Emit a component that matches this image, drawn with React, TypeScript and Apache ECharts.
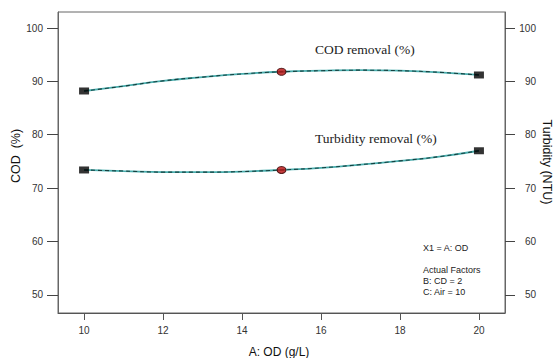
import React, { useEffect, useRef } from "react";
import * as echarts from "echarts";

// Values
const odValues = [10, 11, 12, 13, 14, 15, 16, 17, 18, 19, 20];
const codRemoval = [88.2, 89.1, 90.1, 90.8, 91.4, 91.8, 92.0, 92.1, 92.0, 91.7, 91.2];
const turbidityRemoval = [73.4, 73.2, 73.0, 73.0, 73.1, 73.4, 73.8, 74.4, 75.1, 75.9, 77.0];
const designPointsX = [10, 15, 20];
const centerPointX = 15;
const xTicks = [10, 12, 14, 16, 18, 20];
const yTicks = [50, 60, 70, 80, 90, 100];
const annotationLines = ["X1 = A: OD", "", "Actual Factors", "B: CD = 2", "C: Air = 10"];

const pairs = (ys: number[]) => odValues.map((x, i) => [x, ys[i]]);
const atX = (ys: number[], xs: number[]) => xs.map((x) => [x, ys[odValues.indexOf(x)]]);

export default function App() {
  const ref = useRef<HTMLDivElement>(null);
  useEffect(() => {
    if (!ref.current) return;
    const chart = echarts.init(ref.current, null, { renderer: "svg" });
    const labelStyle = { color: "#333", fontSize: 10, fontFamily: "Liberation Sans, Arial, sans-serif" };
    const yAxisBase = {
      type: "value" as const,
      min: 46.6,
      max: 103,
      splitLine: { show: false },
      axisLine: { show: true, lineStyle: { color: "#666", width: 1 } },
    };
    const squares = (ys: number[]) =>
      atX(ys, designPointsX.filter((x) => x !== centerPointX));
    const center = (ys: number[]) => atX(ys, [centerPointX]);
    const lineSeries = (ys: number[], yIdx: number) => [
      {
        type: "line",
        yAxisIndex: yIdx,
        data: pairs(ys),
        smooth: true,
        showSymbol: false,
        lineStyle: { color: "#4aaeae", width: 1.8 },
        z: 2,
      },
      {
        type: "line",
        yAxisIndex: yIdx,
        data: pairs(ys),
        smooth: true,
        showSymbol: false,
        lineStyle: { color: "#14403f", width: 1.1, type: [4, 3] },
        z: 3,
      },
      {
        type: "scatter",
        yAxisIndex: yIdx,
        data: squares(ys),
        symbol: "rect",
        symbolSize: [10, 7],
        itemStyle: { color: "#000" },
        z: 5,
      },
      {
        type: "scatter",
        yAxisIndex: yIdx,
        data: center(ys),
        symbol: "circle",
        symbolSize: [9, 7],
        itemStyle: { color: "#b80d0d", borderColor: "#3a0000", borderWidth: 1 },
        z: 5,
      },
    ];
    chart.setOption({
      animation: false,
      backgroundColor: "#fff",
      grid: { left: 58, right: 48, top: 12, bottom: 45, show: true, borderColor: "#666", borderWidth: 1 },
      xAxis: {
        type: "value",
        min: 9.34,
        max: 20.66,
        splitLine: { show: false },
        axisLine: { show: true, lineStyle: { color: "#555" } },
        axisTick: { show: true, length: 7, customValues: xTicks, lineStyle: { color: "#555" } },
        axisLabel: { ...labelStyle, margin: 12, customValues: xTicks },
      },
      yAxis: [
        {
          ...yAxisBase,
          position: "left",
          axisTick: { show: true, length: 11, customValues: yTicks, lineStyle: { color: "#444" } },
          axisLabel: { ...labelStyle, margin: 15, customValues: yTicks },
        },
        {
          ...yAxisBase,
          position: "right",
          axisTick: { show: true, length: 10, customValues: yTicks, lineStyle: { color: "#444" } },
          axisLabel: { ...labelStyle, margin: 31, align: "right", customValues: yTicks },
        },
      ],
      series: [...lineSeries(codRemoval, 0), ...lineSeries(turbidityRemoval, 1)],
      graphic: [
        {
          type: "text",
          x: 16,
          y: 156,
          rotation: Math.PI / 2,
          style: {
            text: "COD  (%)",
            fontSize: 12.5,
            fontFamily: "Liberation Sans, Arial, sans-serif",
            fill: "#111",
            align: "center",
            verticalAlign: "middle",
          },
        },
        {
          type: "text",
          x: 547,
          y: 162,
          rotation: -Math.PI / 2,
          style: {
            text: "Turbidity (NTU)",
            fontSize: 12.5,
            fontFamily: "Liberation Sans, Arial, sans-serif",
            fill: "#111",
            align: "center",
            verticalAlign: "middle",
          },
        },
        {
          type: "text",
          x: 279,
          y: 352,
          style: {
            text: "A: OD (g/L)",
            fontSize: 12,
            fontFamily: "Liberation Sans, Arial, sans-serif",
            fill: "#111",
            align: "center",
            verticalAlign: "middle",
          },
        },
        {
          type: "text",
          x: 315,
          y: 49,
          style: {
            text: "COD removal (%)",
            fontSize: 13.5,
            fontFamily: "Liberation Serif, Times New Roman, serif",
            fill: "#222",
            align: "left",
            verticalAlign: "middle",
          },
        },
        {
          type: "text",
          x: 315,
          y: 138,
          style: {
            text: "Turbidity removal (%)",
            fontSize: 13.5,
            fontFamily: "Liberation Serif, Times New Roman, serif",
            fill: "#222",
            align: "left",
            verticalAlign: "middle",
          },
        },
        {
          type: "text",
          x: 423,
          y: 243,
          style: {
            text: annotationLines.join("\n"),
            fontSize: 9,
            lineHeight: 10.8,
            fontFamily: "Liberation Sans, Arial, sans-serif",
            fill: "#222",
            align: "left",
            verticalAlign: "top",
          },
        },
      ],
    });
    return () => chart.dispose();
  }, []);
  return <div ref={ref} style={{ width: 553, height: 358, position: "absolute", left: 0, top: 0 }} />;
}
